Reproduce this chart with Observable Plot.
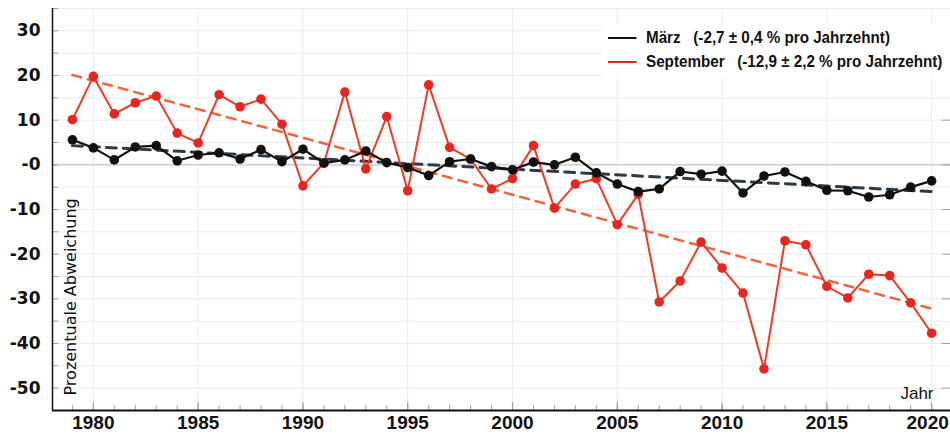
<!DOCTYPE html>
<html><head><meta charset="utf-8">
<script src="https://cdn.jsdelivr.net/npm/d3@7"></script>
<script src="https://cdn.jsdelivr.net/npm/@observablehq/plot@0.6"></script>
<style>
body{margin:0;background:#fff;}
#wrap{position:relative;width:950px;height:435px;overflow:hidden;}
#legend{position:absolute;left:602px;top:24px;background:#fff;padding:2px 0 4px 6px;font-family:"Liberation Sans",Arial,sans-serif;font-weight:bold;font-size:16px;color:#111;white-space:pre;line-height:24px;width:400px;}
#legend .row{transform:scaleX(0.95);transform-origin:0 50%;}
#legend .sw{display:inline-block;width:30px;height:0;border-top:2.5px solid;vertical-align:middle;margin-right:10px;position:relative;top:-1px;}
</style></head>
<body><div id="wrap"><div id="chart"></div><div id="legend"></div></div>
<script>
const years = d3.range(1979, 2021);
const maerz = [5.6,3.8,1.1,4.0,4.3,0.9,2.2,2.7,1.3,3.4,0.7,3.5,0.4,1.1,3.1,0.5,-0.6,-2.4,0.7,1.3,-0.4,-1.1,0.6,0.0,1.7,-1.8,-4.3,-6.0,-5.4,-1.5,-2.1,-1.4,-6.3,-2.5,-1.6,-3.7,-5.7,-5.8,-7.2,-6.7,-5.0,-3.6];
const september = [10.1,19.8,11.4,13.9,15.4,7.1,4.9,15.7,13.0,14.7,9.1,-4.7,0.4,16.3,-0.9,10.8,-5.8,17.9,3.9,1.3,-5.4,-3.1,4.3,-9.7,-4.3,-3.1,-13.4,-6.6,-30.7,-26.0,-17.3,-23.1,-28.7,-45.7,-17.0,-17.9,-27.2,-29.8,-24.5,-24.8,-30.9,-37.7];
const trendYears = [1979, 2020];
const maerzTrend = [4.3, -6.0];
const septemberTrend = [20.1, -32.2];
const legendLabels = ["März   (-2,7 ± 0,4 % pro Jahrzehnt)", "September   (-12,9 ± 2,2 % pro Jahrzehnt)"];
const yTicks = [30,20,10,0,-10,-20,-30,-40,-50];
const xTicks = [1980,1985,1990,1995,2000,2005,2010,2015];
const xTickLast = [2020];

const colBlack = "#111111", colRed = "#e8261e", colRedLine = "#ef3a26";
const colBlackTrend = "#2c3a45", colRedTrend = "#f2633b";

const xMin = 1978.05, xMax = 2020.9, yMin = -55, yMax = 35;
const mData = years.map((y,i)=>({year:y, v:maerz[i]}));
const sData = years.map((y,i)=>({year:y, v:september[i]}));
const mT = trendYears.map((y,i)=>({year:y, v:maerzTrend[i]}));
const sT = trendYears.map((y,i)=>({year:y, v:septemberTrend[i]}));
const grid5 = d3.range(-55, 36, 5);
const gridX = d3.range(1980, 2021, 5);
const minorYears = d3.range(1979, 2021);
const xAxisStyle = {tickSize: 0, tickPadding: 5, label: null, tickFormat: d => String(d),
  fontSize: 19, fontWeight: "bold", fontFamily: "Liberation Sans", fill: "#111"};

const chart = Plot.plot({
  width: 950, height: 435,
  marginLeft: 52, marginRight: 0, marginTop: 8, marginBottom: 25,
  x: {domain: [xMin, xMax]},
  y: {domain: [yMin, yMax]},
  style: {background: "#fff"},
  marks: [
    Plot.ruleY(grid5.filter(d=>d!==0), {stroke: "#ebebeb", strokeWidth: 1}),
    Plot.ruleX(gridX, {stroke: "#ebebeb", strokeWidth: 1}),
    Plot.ruleY([0], {stroke: "#d4d4d4", strokeWidth: 2}),
    // inner ticks
    Plot.ruleX(minorYears, {y1: yMin, y2: yMin + 1.1, stroke: "#a0a0a0", strokeWidth: 1}),
    Plot.ruleX(gridX, {y1: yMin, y2: yMin + 1.8, stroke: "#a0a0a0", strokeWidth: 1.2}),
    Plot.ruleY(grid5, {x1: xMin, x2: xMin + 0.3, stroke: "#a0a0a0", strokeWidth: 1}),
    Plot.ruleY(yTicks, {x1: xMax - 0.4, x2: xMax, stroke: "#a0a0a0", strokeWidth: 1}),
    // trends
    Plot.line(sT, {x: "year", y: "v", stroke: colRedTrend, strokeWidth: 2.5, strokeDasharray: "9,7"}),
    Plot.line(mT, {x: "year", y: "v", stroke: colBlackTrend, strokeWidth: 3, strokeDasharray: "10,7"}),
    // data
    Plot.line(sData, {x: "year", y: "v", stroke: colRedLine, strokeWidth: 2}),
    Plot.dot(sData, {x: "year", y: "v", fill: colRed, r: 4.8}),
    Plot.line(mData, {x: "year", y: "v", stroke: colBlack, strokeWidth: 2.2}),
    Plot.dot(mData, {x: "year", y: "v", fill: colBlack, r: 4.8}),
    // frame
    Plot.ruleX([xMin], {stroke: "#111", strokeWidth: 1.5}),
    Plot.ruleY([yMin], {stroke: "#111", strokeWidth: 2}),
    // axes
    Plot.axisY(yTicks, {tickSize: 0, tickPadding: 12, label: null,
      tickFormat: d => d === 0 ? "-0" : String(d),
      fontSize: 17, fontWeight: "bold", fontFamily: "DejaVu Sans", fill: "#111"}),
    Plot.axisX(xTicks, xAxisStyle),
    Plot.axisX(xTickLast, {...xAxisStyle, dx: -4}),
    // titles
    Plot.text(["Prozentuale Abweichung"], {frameAnchor: "bottom-left", rotate: -90, textAnchor: "start",
      dx: 23, dy: -15, fontSize: 16, fontFamily: "DejaVu Sans", fill: "#111"}),
    Plot.text(["Jahr"], {frameAnchor: "bottom-right", textAnchor: "end", lineAnchor: "bottom",
      dx: -17, dy: -12, fontSize: 17, fontFamily: "Liberation Sans", fill: "#111"})
  ]
});
document.getElementById("chart").appendChild(chart);
const lg = document.getElementById("legend");
[[colBlack, legendLabels[0]], [colRed, legendLabels[1]]].forEach(([c, t]) => {
  const row = document.createElement("div"); row.className = "row";
  const sw = document.createElement("span"); sw.className = "sw"; sw.style.borderColor = c;
  row.appendChild(sw); row.appendChild(document.createTextNode(t));
  lg.appendChild(row);
});
</script></body></html>
